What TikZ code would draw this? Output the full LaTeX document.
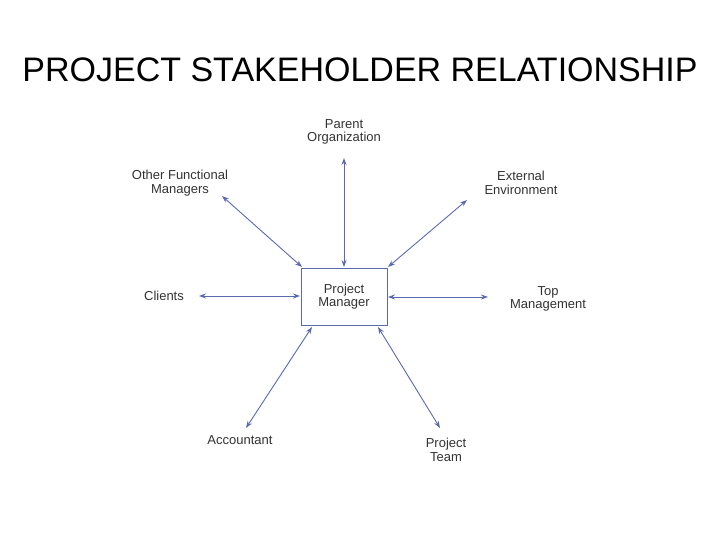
\documentclass[tikz,border=0pt]{standalone}
\usepackage{fontspec}
\setmainfont{Liberation Sans}
\usetikzlibrary{arrows.meta}
\definecolor{arr}{HTML}{5A6AB0}
\definecolor{txt}{HTML}{333333}
\begin{document}
\begin{tikzpicture}[x=1pt,y=-1pt,
  lbl/.style={text=txt,font=\fontsize{13}{13.5}\selectfont,align=center,inner sep=1pt},
  link/.style={draw=arr,line width=0.9pt,{Stealth[length=7pt,width=5pt]}-{Stealth[length=7pt,width=5pt]}}]
\fill[white] (0,0) rectangle (720,540);
\useasboundingbox (0,0) rectangle (720,540);
\node[text=black,font=\fontsize{34}{36}\selectfont] (title) at (360,70) {PROJECT STAKEHOLDER RELATIONSHIP};
\node[lbl,draw=arr,line width=0.9pt,minimum width=86pt,minimum height=57pt] (pm) at (344,296.5) {Project\\Manager};
\node[lbl] (po) at (344,132) {Parent\\Organization};
\node[lbl] (ofm) at (180,183) {Other Functional\\Managers};
\node[lbl] (ee) at (521,183) {External\\Environment};
\node[lbl] (cl) at (164,296) {Clients};
\node[lbl] (tm) at (548,299) {Top\\Management};
\node[lbl] (ac) at (240,440) {Accountant};
\node[lbl] (pt) at (446,450) {Project\\Team};
\coordinate (a1) at (344,158); \coordinate (b1) at (344,267);
\coordinate (a2) at (222,196); \coordinate (b2) at (302,267);
\coordinate (a3) at (467,200); \coordinate (b3) at (388,267);
\coordinate (a4) at (199,296); \coordinate (b4) at (300,296);
\coordinate (a5) at (488,297); \coordinate (b5) at (388,297);
\coordinate (a6) at (246,428); \coordinate (b6) at (312,327);
\coordinate (a7) at (440,428); \coordinate (b7) at (378,327);
\draw[link] (a1) -- (b1);
\draw[link] (a2) -- (b2);
\draw[link] (a3) -- (b3);
\draw[link] (a4) -- (b4);
\draw[link] (a5) -- (b5);
\draw[link] (a6) -- (b6);
\draw[link] (a7) -- (b7);
\end{tikzpicture}
\end{document}
